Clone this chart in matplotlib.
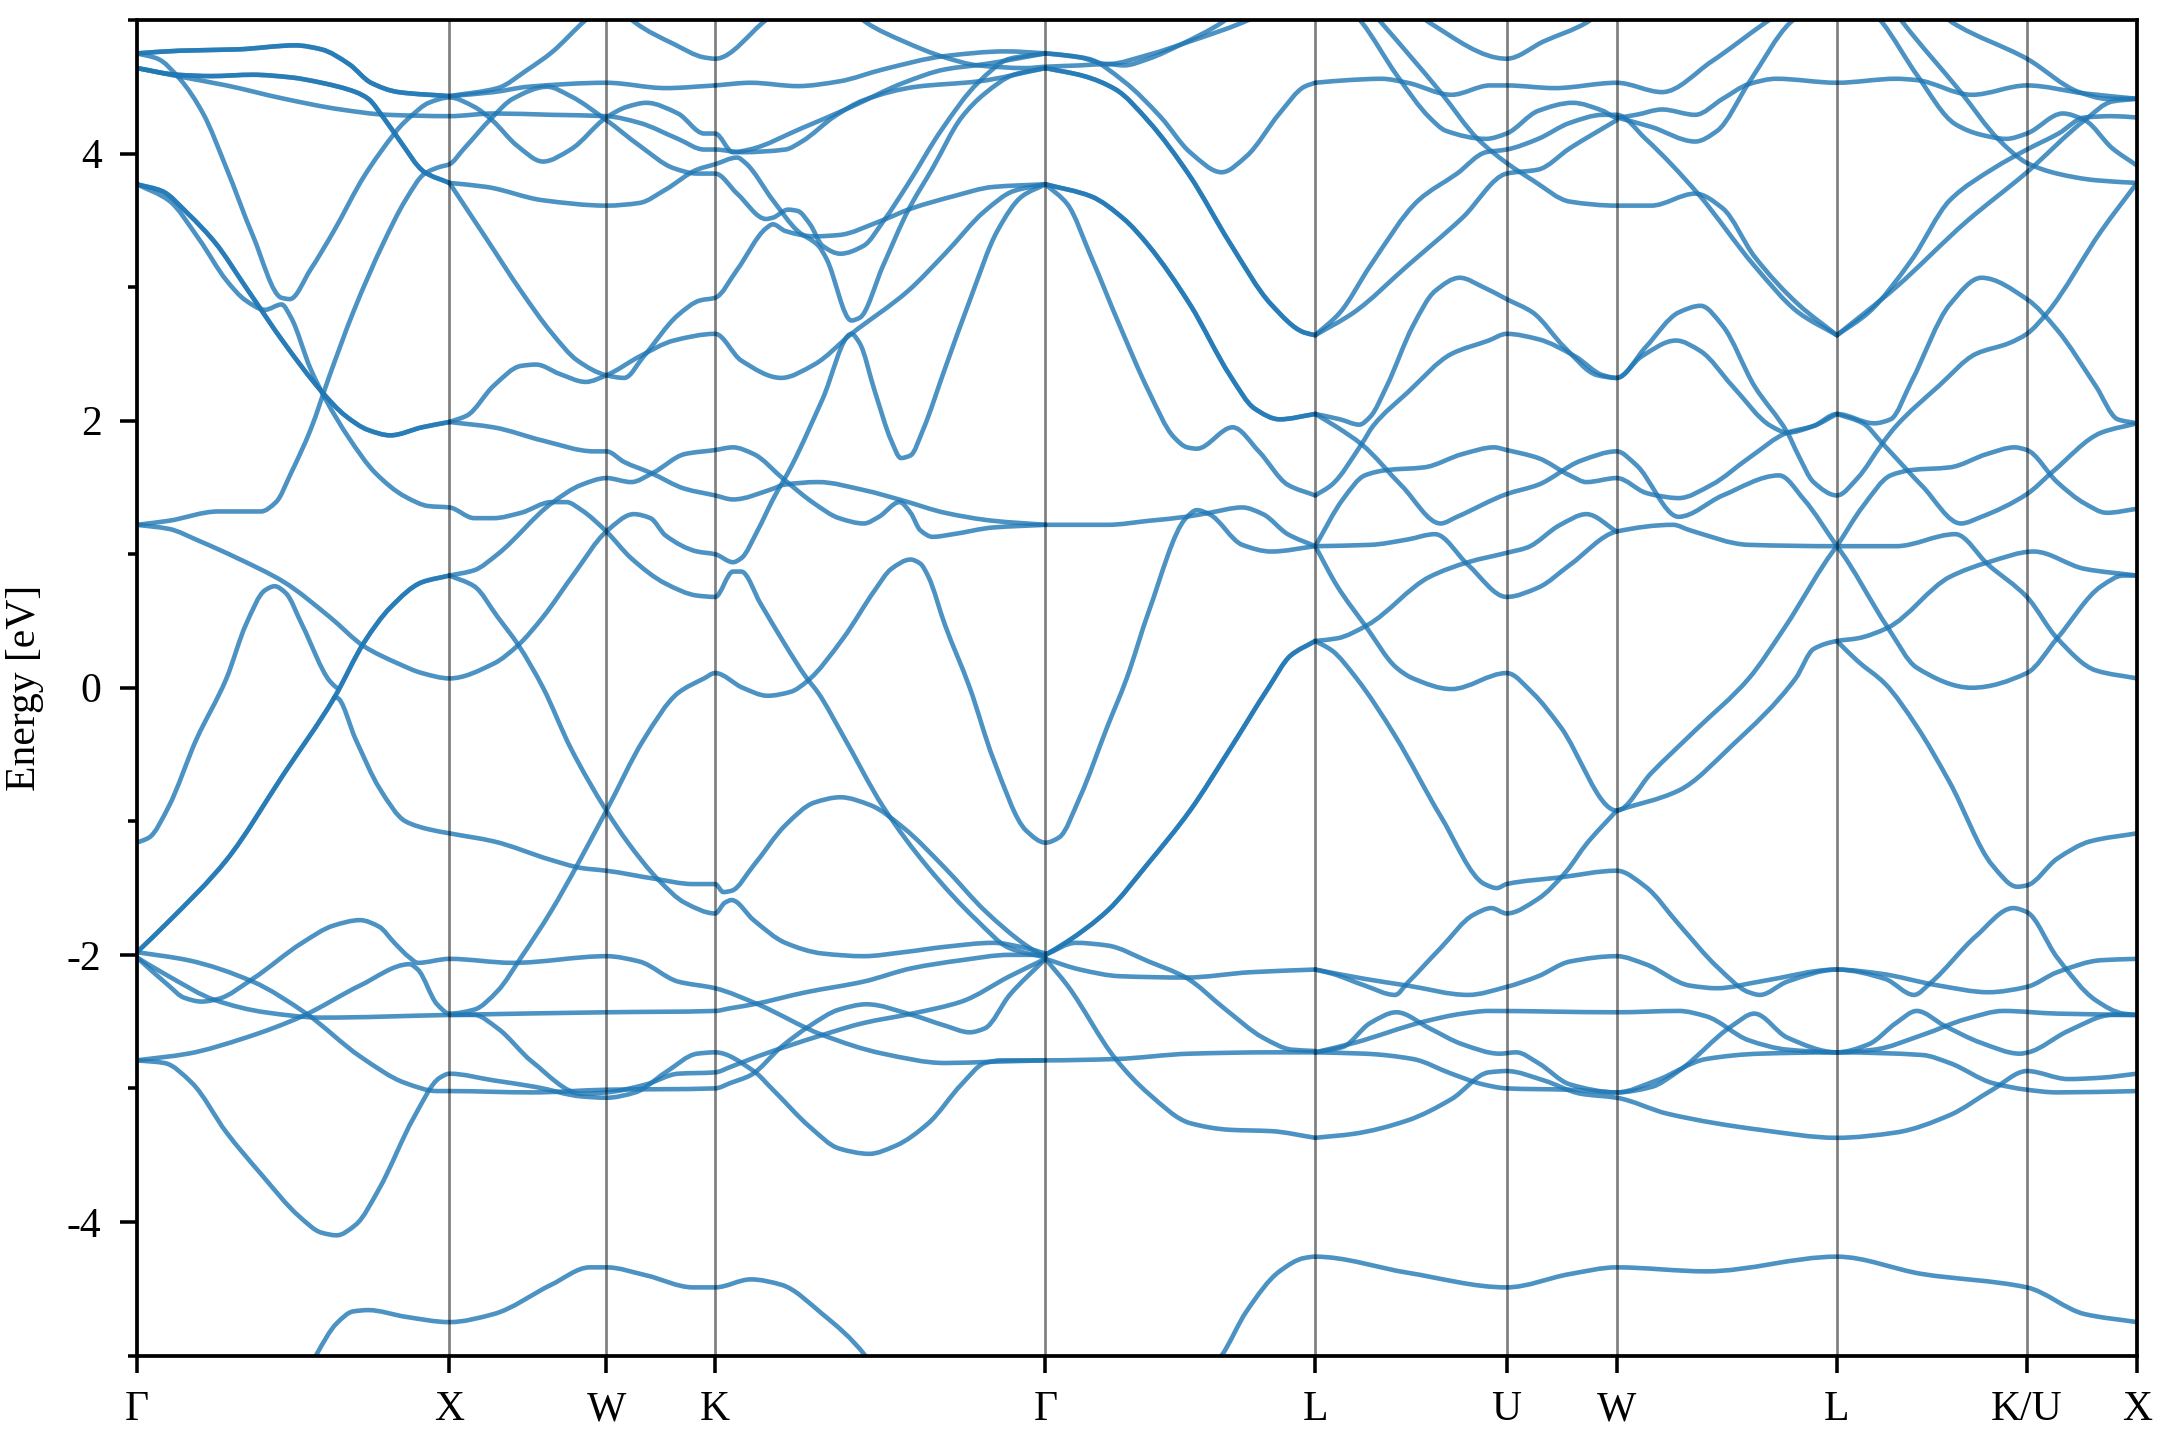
import matplotlib
matplotlib.use("Agg")
import matplotlib.pyplot as plt
from matplotlib.patches import PathPatch
from matplotlib.path import Path
from matplotlib.ticker import MultipleLocator

plt.rcParams['font.family'] = ['Liberation Serif', 'DejaVu Serif']
plt.rcParams['axes.unicode_minus'] = False

tick_k = [0, 227, 341, 420, 660, 856, 995, 1075, 1235, 1373, 1453]
tick_labels = ['Γ', 'X', 'W', 'K', 'Γ', 'L', 'U', 'W', 'L', 'K/U', 'X']

# ---- Γ - X - W - K - Γ
top_gx_k = [0, 31, 73, 115, 134, 154, 170, 190, 227]
top_gx_e = [4.75, 4.77, 4.78, 4.81, 4.78, 4.67, 4.53, 4.46, 4.43]
top_xw_k = [227, 262, 284, 301, 326, 345]
top_xw_e = [4.43, 4.49, 4.63, 4.755, 5.0, 5.15]
x_flat_k = [227, 259, 284, 341, 384, 420]
x_flat_e = [4.43, 4.46, 4.50, 4.53, 4.49, 4.51]
vee_k_k = [350, 362, 390, 412, 420, 457, 470]
vee_k_e = [5.1, 4.98, 4.82, 4.72, 4.71, 5.0, 5.1]

steep_k = [0, 15, 31, 48, 65, 84, 105, 111, 126, 143, 165, 187, 191, 198, 212, 227, 245, 258, 276, 295, 315, 341,
           356, 370, 393, 412, 420, 433, 445, 483, 519, 557, 587, 616, 660]
steep_e = [4.75, 4.71, 4.56, 4.30, 3.89, 3.39, 2.92, 2.91, 3.13, 3.42, 3.83, 4.15, 4.2, 4.27, 4.38, 4.42, 4.35, 4.25,
           4.06, 3.94, 4.03, 4.27, 4.35, 4.38, 4.30, 4.15, 4.15, 4.01, 4.03, 4.19, 4.35, 4.53, 4.63, 4.67, 4.75]

g463_x_k = [0, 29, 54, 84, 112, 134, 159, 168, 179, 190, 209, 227]
g463_x_e = [4.64, 4.59, 4.58, 4.59, 4.57, 4.53, 4.46, 4.41, 4.27, 4.11, 3.86, 3.78]
x378_k_k = [227, 254, 295, 341, 365, 384, 407, 420, 436, 442, 462, 480, 495, 501, 519, 525, 542, 560, 578, 599, 616, 637, 660]
x378_k_e = [3.78, 3.75, 3.65, 3.61, 3.63, 3.73, 3.88, 3.92, 3.97, 3.93, 3.65, 3.42, 3.31, 3.21, 2.75, 2.77, 3.16,
            3.57, 3.89, 4.27, 4.45, 4.59, 4.64]
x378_w_k = [227, 254, 279, 301, 320, 341, 354, 368, 393, 409, 420, 436, 457, 462, 471, 492, 510, 539, 563, 593, 622, 660]
x378_w_e = [3.78, 3.36, 2.97, 2.66, 2.45, 2.34, 2.32, 2.48, 2.79, 2.90, 2.92, 3.13, 3.44, 3.47, 3.42, 3.38, 3.39,
            3.49, 3.59, 3.68, 3.75, 3.77]

flat428_k = [0, 29, 65, 107, 148, 182, 227, 259, 301, 341, 365, 393, 412, 420, 439, 471, 483, 507, 528, 566, 611, 660]
flat428_e = [4.64, 4.58, 4.51, 4.41, 4.33, 4.29, 4.28, 4.30, 4.29, 4.28, 4.23, 4.11, 4.03, 4.03, 4.01, 4.03, 4.09,
             4.28, 4.40, 4.50, 4.54, 4.64]

rise_k = [0, 23, 59, 90, 101, 112, 126, 140, 157, 179, 195, 209, 220, 227, 237, 258, 273, 298, 315, 341, 365, 390, 407, 420,
          436, 457, 462, 473, 480, 489, 498, 511, 528, 542, 560, 584, 611, 634, 660]
rise_e = [1.22, 1.25, 1.32, 1.32, 1.39, 1.61, 1.93, 2.34, 2.81, 3.33, 3.65, 3.85, 3.90, 3.92, 4.03, 4.27, 4.41, 4.50,
          4.43, 4.25, 4.06, 3.89, 3.85, 3.85, 3.70, 3.51, 3.52, 3.58, 3.57, 3.47, 3.31, 3.25, 3.31, 3.49, 3.77, 4.17,
          4.53, 4.71, 4.75]

g377_x_k = [0, 18, 37, 57, 79, 107, 134, 151, 168, 184, 207, 227]
g377_x_e = [3.77, 3.72, 3.55, 3.33, 3.0, 2.58, 2.22, 2.04, 1.93, 1.89, 1.95, 1.99]
x199_g_k = [227, 259, 295, 332, 341, 354, 373, 398, 420, 433, 462, 470, 495, 528, 557, 587, 622, 660]
x199_g_e = [1.99, 1.95, 1.85, 1.77, 1.77, 1.69, 1.61, 1.49, 1.44, 1.41, 1.49, 1.52, 1.54, 1.48, 1.40, 1.31, 1.25, 1.22]
x199_u_k = [227, 240, 259, 279, 290, 307, 326, 341, 365, 390, 420, 439, 468, 492, 519, 560, 587, 616, 637, 660]
x199_u_e = [1.99, 2.04, 2.26, 2.41, 2.42, 2.35, 2.29, 2.34, 2.48, 2.60, 2.65, 2.45, 2.32, 2.42, 2.65, 2.97, 3.25,
            3.57, 3.72, 3.77]

third_k = [0, 23, 45, 65, 79, 93, 105, 112, 126, 137, 154, 173, 195, 212, 227, 245, 259, 279, 301, 312, 323, 341, 359, 384,
           407, 420, 433, 439, 453, 471, 486, 495, 513, 542, 575, 610, 634, 660]
third_e = [3.77, 3.65, 3.36, 3.05, 2.90, 2.83, 2.87, 2.77, 2.39, 2.16, 1.87, 1.61, 1.43, 1.36, 1.35, 1.27, 1.27, 1.31,
           1.39, 1.39, 1.33, 1.17, 0.97, 0.78, 0.69, 0.68, 0.87, 0.87, 0.63, 0.32, 0.08, -0.04, -0.36, -0.89, -1.35,
           -1.74, -1.95, -2.02]

g2_x_k = [0, 23, 65, 107, 143, 165, 184, 207, 227]
g2_x_e = [-1.98, -1.75, -1.29, -0.64, -0.08, 0.34, 0.6, 0.79, 0.84]
x084_k_k = [227, 245, 262, 277, 295, 315, 341, 356, 379, 398, 420, 427, 432, 448, 471, 498, 528, 557, 587, 622, 646, 660]
x084_k_e = [0.84, 0.76, 0.53, 0.32, 0.0, -0.45, -0.92, -1.15, -1.44, -1.61, -1.69, -1.61, -1.59, -1.74, -1.91, -1.99,
            -2.01, -1.98, -1.94, -1.91, -1.95, -1.99]
x084_u_k = [227, 245, 262, 301, 323, 341, 359, 375, 398, 420, 433, 448, 470, 492, 510, 528, 539, 554, 562, 569, 578, 593, 622, 660]
x084_u_e = [0.84, 0.88, 1.0, 1.38, 1.52, 1.57, 1.54, 1.61, 1.75, 1.78, 1.8, 1.75, 1.56, 1.38, 1.27, 1.23, 1.28, 1.39,
            1.31, 1.18, 1.13, 1.15, 1.2, 1.22]

bump_k = [0, 9, 23, 43, 65, 79, 93, 100, 108, 120, 140, 145]
bump_e = [-1.16, -1.12, -0.89, -0.39, 0.07, 0.47, 0.73, 0.76, 0.71, 0.47, 0.05, 0.0]
low1_k = [143, 145, 159, 176, 195, 212, 227, 259, 301, 323, 341, 376, 404, 420, 426, 432, 448, 471, 492, 511, 533, 557, 587, 616, 646, 660]
low1_e = [-0.075, -0.075, -0.39, -0.75, -1.0, -1.06, -1.09, -1.15, -1.29, -1.35, -1.37, -1.43, -1.47, -1.47, -1.53,
          -1.52, -1.33, -1.03, -0.86, -0.82, -0.88, -1.05, -1.35, -1.67, -1.93, -2.02]

g122_k = [0, 23, 45, 73, 107, 140, 165, 190, 207, 227, 259, 277, 295, 318, 341, 361, 373, 384, 407, 420, 433, 439, 451, 462, 476,
          498, 519, 525, 536, 548, 555, 562, 571, 587, 605, 625, 643, 660]
g122_e = [1.22, 1.19, 1.10, 0.97, 0.79, 0.53, 0.31, 0.18, 0.11, 0.07, 0.18, 0.32, 0.53, 0.86, 1.17, 1.30, 1.27, 1.14,
          1.02, 1.0, 0.94, 0.97, 1.18, 1.41, 1.67, 2.16, 2.65, 2.58, 2.22, 1.85, 1.72, 1.74, 1.93, 2.39, 2.90, 3.42,
          3.68, 3.77]

g279_k = [0, 37, 79, 120, 162, 198, 204, 218, 227, 245, 262, 279, 301, 341, 368, 393, 412, 420, 440, 458, 475, 487, 513, 536, 548,
          562, 569, 575, 587, 605, 622, 646, 660, 670, 685, 705, 719, 735, 762, 770, 779, 803, 824, 856]
g279_e = [-2.79, -2.74, -2.62, -2.46, -2.23, -2.07, -2.11, -2.37, -2.44, -2.41, -2.27, -2.02, -1.67, -0.92, -0.39,
          -0.04, 0.07, 0.11, 0.0, -0.06, -0.03, 0.05, 0.37, 0.73, 0.89, 0.96, 0.93, 0.83, 0.47, 0.0, -0.53, -1.07,
          -1.16, -1.12, -0.82, -0.29, 0.07, 0.57, 1.27, 1.33, 1.30, 1.07, 1.02, 1.06]

thick245_k = [0, 23, 57, 93, 134, 227, 341, 420, 431, 448, 486, 528, 563, 599, 634, 660]
thick245_e = [-2.02, -2.16, -2.34, -2.43, -2.47, -2.45, -2.43, -2.42, -2.40, -2.37, -2.28, -2.2, -2.1, -2.04, -2.0, -2.0]
arch_k = [0, 23, 34, 47, 59, 84, 120, 143, 162, 176, 187, 198, 204, 227, 273, 341, 365, 393, 420, 451, 498, 542, 587, 622, 660]
arch_e = [-2.02, -2.23, -2.32, -2.35, -2.33, -2.18, -1.91, -1.78, -1.74, -1.79, -1.91, -2.02, -2.06, -2.03, -2.06,
          -2.01, -2.05, -2.2, -2.25, -2.37, -2.6, -2.74, -2.81, -2.8, -2.79]
g302_k = [0, 37, 84, 123, 162, 195, 218, 227, 287, 341, 420, 431, 446, 468, 489, 510, 530, 563, 587, 605, 616, 634, 660]
g302_e = [-1.98, -2.04, -2.2, -2.44, -2.76, -2.96, -3.02, -3.02, -3.03, -3.01, -3.0, -2.96, -2.9, -2.69, -2.53, -2.41,
          -2.37, -2.45, -2.53, -2.58, -2.55, -2.3, -2.03]
deep_k = [0, 20, 40, 65, 90, 118, 134, 145, 159, 176, 201, 220, 227, 259, 290, 323, 341, 362, 384, 407, 420, 448, 462, 489, 510, 532,
          551, 575, 599, 616, 628, 660, 711, 765, 824, 856]
deep_e = [-2.79, -2.81, -2.96, -3.33, -3.64, -3.96, -4.08, -4.1, -4.02, -3.75, -3.22, -2.92, -2.89, -2.94, -2.99,
          -3.06, -3.07, -3.03, -2.88, -2.74, -2.73, -2.87, -3.01, -3.29, -3.45, -3.49, -3.43, -3.26, -2.97, -2.81,
          -2.79, -2.79, -2.78, -2.74, -2.73, -2.73]
x245_k = [227, 245, 262, 287, 323, 341, 370, 393, 420, 431, 451, 498, 528, 563, 599, 634, 660]
x245_e = [-2.45, -2.45, -2.55, -2.8, -3.04, -3.03, -2.97, -2.89, -2.88, -2.84, -2.76, -2.6, -2.51, -2.44, -2.35, -2.16, -2.03]
bottom_a_k = [125, 130, 145, 157, 168, 195, 227, 259, 301, 329, 341, 370, 404, 420, 446, 468, 498, 529, 535]
bottom_a_e = [-5.1, -5.0, -4.76, -4.67, -4.66, -4.71, -4.75, -4.69, -4.47, -4.34, -4.34, -4.4, -4.49, -4.49, -4.43,
              -4.47, -4.69, -5.0, -5.1]

# ---- Γ - L
top_peak_k = [420, 446, 480, 510, 542, 587, 631, 660, 691, 717, 744, 765, 788, 806, 830, 848, 856]
top_peak_e = [4.51, 4.53, 4.505, 4.54, 4.63, 4.73, 4.765, 4.75, 4.71, 4.54, 4.27, 4.01, 3.86, 3.98, 4.30, 4.50, 4.53]
flat465_k = [522, 530, 557, 587, 611, 646, 660, 685, 705, 717, 735, 759, 788, 797]
flat465_e = [5.05, 4.98, 4.84, 4.72, 4.66, 4.64, 4.65, 4.66, 4.67, 4.66, 4.71, 4.82, 4.98, 5.05]
g475_up_k = [660, 685, 705, 735, 765, 803, 818]
g475_up_e = [4.75, 4.72, 4.67, 4.74, 4.84, 4.98, 5.05]
g464_l_k = [660, 688, 711, 735, 765, 794, 824, 848, 856]
g464_l_e = [4.64, 4.58, 4.48, 4.24, 3.83, 3.33, 2.87, 2.66, 2.64]
g377_l_k = [660, 693, 717, 735, 765, 794, 812, 830, 856]
g377_l_e = [3.77, 3.68, 3.51, 3.31, 2.87, 2.34, 2.09, 2.01, 2.05]
g377_s_k = [660, 676, 693, 714, 735, 753, 763, 770, 796, 815, 836, 856]
g377_s_e = [3.77, 3.62, 3.23, 2.71, 2.22, 1.88, 1.8, 1.79, 1.95, 1.77, 1.52, 1.44]
g122_l_k = [660, 705, 735, 762, 779, 803, 818, 836, 856]
g122_l_e = [1.22, 1.22, 1.25, 1.28, 1.31, 1.35, 1.30, 1.15, 1.06]
g2_l_k = [660, 676, 705, 735, 765, 794, 822, 838, 856]
g2_l_e = [-2.0, -1.90, -1.67, -1.31, -0.92, -0.46, 0.0, 0.24, 0.35]
g2_flat_k = [660, 685, 714, 762, 809, 856]
g2_flat_e = [-2.03, -2.11, -2.16, -2.17, -2.13, -2.11]
g2_bump_k = [660, 682, 705, 735, 762, 791, 818, 839, 856]
g2_bump_e = [-2.0, -1.91, -1.93, -2.05, -2.17, -2.41, -2.62, -2.71, -2.72]
g2_down_k = [660, 676, 711, 735, 765, 794, 824, 856]
g2_down_e = [-2.03, -2.23, -2.78, -3.04, -3.26, -3.31, -3.32, -3.37]
bottom_b_k = [780, 788, 806, 830, 848, 856, 923, 995, 1041, 1075, 1140, 1235, 1297, 1373, 1415, 1453]
bottom_b_e = [-5.1, -5.0, -4.67, -4.37, -4.27, -4.26, -4.38, -4.49, -4.39, -4.34, -4.37, -4.26, -4.39, -4.49, -4.69, -4.75]

# ---- L - U - W - L - K/U - X
la_k = [856, 880, 904, 923, 955, 983, 995, 1030, 1075, 1108, 1144, 1183, 1193]
la_e = [4.53, 4.55, 4.56, 4.53, 4.44, 4.51, 4.51, 4.49, 4.53, 4.46, 4.69, 4.98, 5.05]
vee_u_k = [930, 939, 995, 1022, 1053, 1062]
vee_u_e = [5.05, 4.98, 4.71, 4.84, 4.98, 5.05]
l1_k = [884, 890, 915, 939, 951, 980, 995, 1018, 1043, 1065, 1075, 1089, 1108, 1132, 1152, 1171, 1191, 1235, 1278, 1293, 1333, 1373, 1415, 1453]
l1_e = [5.05, 4.98, 4.59, 4.27, 4.17, 4.11, 4.15, 4.32, 4.38, 4.32, 4.27, 4.29, 4.33, 4.29, 4.41, 4.52, 4.56, 4.53,
        4.56, 4.55, 4.44, 4.51, 4.45, 4.41]
w_up_k = [1075, 1100, 1132, 1148, 1171, 1201, 1210]
w_up_e = [4.27, 4.2, 4.09, 4.17, 4.53, 4.98, 5.05]
l2_k = [898, 904, 947, 974, 995, 1014, 1041, 1075, 1100, 1132, 1152, 1175, 1207, 1235]
l2_e = [5.05, 4.98, 4.46, 4.11, 3.93, 3.8, 3.64, 3.61, 3.61, 3.7, 3.59, 3.23, 2.87, 2.64]
la2_k = [856, 874, 896, 931, 959, 980, 995, 1018, 1041, 1065, 1075, 1096, 1134, 1175, 1207, 1235]
la2_e = [2.64, 2.81, 3.16, 3.65, 3.85, 4.01, 4.03, 4.11, 4.23, 4.29, 4.29, 4.11, 3.70, 3.16, 2.81, 2.64]
la3_k = [856, 884, 923, 963, 995, 1018, 1041, 1075]
la3_e = [2.64, 2.81, 3.16, 3.52, 3.85, 3.88, 4.04, 4.25]
r1_k = [1235, 1258, 1289, 1317, 1349, 1373, 1396, 1415, 1435, 1453]
r1_e = [2.64, 2.81, 3.2, 3.65, 3.89, 4.03, 4.15, 4.27, 4.28, 4.27]
r2_k = [1235, 1278, 1329, 1373, 1415, 1435, 1453]
r2_e = [2.64, 3.0, 3.49, 3.86, 4.25, 4.39, 4.41]
r3_k = [1262, 1268, 1293, 1321, 1340, 1358, 1373, 1399, 1415, 1435, 1453]
r3_e = [5.05, 4.98, 4.59, 4.22, 4.14, 4.11, 4.15, 4.3, 4.25, 4.04, 3.91]
r4_k = [1278, 1283, 1325, 1352, 1373, 1395, 1423, 1453]
r4_e = [5.05, 4.98, 4.46, 4.11, 3.93, 3.85, 3.8, 3.78]
r5_k = [1310, 1319, 1373, 1411, 1431, 1453]
r5_e = [5.05, 4.98, 4.71, 4.46, 4.41, 4.41]

m1_k = [856, 874, 888, 896, 908, 927, 943, 961, 978, 995, 1014, 1037, 1061, 1075, 1096, 1120, 1136, 1152, 1175, 1199, 1207, 1218, 1235,
        1250, 1268, 1278, 1309, 1336, 1360, 1373, 1388, 1427, 1453]
m1_e = [2.05, 2.01, 1.97, 2.03, 2.26, 2.71, 2.97, 3.07, 3.0, 2.91, 2.81, 2.55, 2.34, 2.32, 2.55, 2.81, 2.86, 2.71,
        2.26, 1.91, 1.74, 1.54, 1.44, 1.57, 1.83, 1.96, 2.26, 2.5, 2.58, 2.65, 2.81, 3.42, 3.78]
m2_k = [856, 872, 890, 919, 947, 959, 995, 1018, 1049, 1075, 1089, 1120, 1152, 1193, 1211, 1235]
m2_e = [2.05, 1.95, 1.82, 1.51, 1.23, 1.28, 1.45, 1.52, 1.70, 1.77, 1.67, 1.28, 1.44, 1.59, 1.41, 1.06]
m3_k = [856, 868, 890, 898, 923, 955, 982, 995, 1018, 1045, 1065, 1075, 1093, 1118, 1136, 1159, 1187, 1199, 1218, 1235,
        1262, 1274, 1289, 1317, 1340, 1373, 1395, 1423, 1439, 1453]
m3_e = [1.44, 1.52, 1.83, 1.96, 2.21, 2.5, 2.6, 2.65, 2.61, 2.48, 2.34, 2.32, 2.48, 2.6, 2.52, 2.26, 1.96, 1.91, 1.96, 2.05,
        1.98, 2.01, 2.29, 2.87, 3.07, 2.91, 2.68, 2.26, 2.01, 1.98]
m4_k = [1235, 1254, 1268, 1297, 1325, 1340, 1373, 1392, 1427, 1453]
m4_e = [2.05, 1.98, 1.83, 1.51, 1.23, 1.28, 1.45, 1.62, 1.91, 1.98]
m5_k = [1235, 1254, 1274, 1289, 1317, 1344, 1364, 1373, 1395, 1415, 1431, 1453]
m5_e = [1.06, 1.36, 1.59, 1.63, 1.65, 1.75, 1.8, 1.78, 1.54, 1.38, 1.31, 1.34]
m6_k = [856, 876, 892, 908, 935, 963, 986, 995, 1018, 1041, 1053, 1075, 1096, 1104, 1120, 1144, 1171, 1199, 1218, 1235]
m6_e = [1.06, 1.41, 1.59, 1.63, 1.65, 1.75, 1.8, 1.78, 1.72, 1.59, 1.54, 1.57, 1.46, 1.44, 1.42, 1.52, 1.72, 1.91, 1.96, 2.05]
f1_k = [856, 896, 923, 943, 967, 995, 1018, 1041, 1075, 1116, 1128, 1171, 1235, 1278, 1321, 1345, 1373, 1395, 1423, 1453]
f1_e = [1.06, 1.07, 1.11, 1.15, 0.92, 0.68, 0.75, 0.92, 1.17, 1.22, 1.18, 1.07, 1.06, 1.06, 1.15, 0.92, 0.68, 0.37, 0.13, 0.07]
f2_k = [856, 872, 892, 915, 927, 955, 995, 1014, 1034, 1075, 1100, 1132, 1171, 1197, 1235, 1272, 1293, 1333, 1373, 1395, 1427, 1443, 1453]
f2_e = [1.06, 0.76, 0.47, 0.15, 0.07, -0.01, 0.11, -0.04, -0.29, -0.92, -0.64, -0.32, 0.07, 0.45, 1.06, 0.45, 0.15, 0.0,
        0.11, 0.37, 0.76, 0.84, 0.84]
f3_k = [856, 872, 894, 939, 967, 995, 1010, 1034, 1053, 1075]
f3_e = [0.35, 0.37, 0.47, 0.83, 0.94, 1.01, 1.05, 1.22, 1.30, 1.17]
f4_k = [1075, 1120, 1159, 1205, 1218, 1235, 1250, 1272, 1317, 1345, 1378, 1415, 1453]
f4_e = [-0.92, -0.77, -0.43, 0.07, 0.29, 0.35, 0.37, 0.45, 0.83, 0.94, 1.02, 0.89, 0.84]
a1_k = [856, 868, 886, 914, 947, 979, 988, 995, 1034, 1075, 1096, 1120, 1148, 1171, 1179, 1199, 1235, 1270, 1291, 1303, 1336, 1363,
        1373, 1395, 1423, 1443, 1453]
a1_e = [0.35, 0.28, 0.07, -0.36, -0.96, -1.47, -1.5, -1.47, -1.42, -1.37, -1.49, -1.77, -2.09, -2.28, -2.30, -2.2,
        -2.11, -2.18, -2.3, -2.21, -1.86, -1.65, -1.68, -2.02, -2.34, -2.44, -2.45]
c1_k = [1235, 1250, 1270, 1293, 1317, 1348, 1366, 1373, 1395, 1419, 1453]
c1_e = [0.35, 0.2, 0.03, -0.29, -0.71, -1.33, -1.49, -1.48, -1.28, -1.15, -1.09]
u1_k = [856, 868, 892, 914, 923, 947, 971, 984, 995, 1018, 1038, 1053, 1075]
u1_e = [-2.11, -2.14, -2.23, -2.3, -2.21, -1.95, -1.70, -1.65, -1.69, -1.58, -1.38, -1.17, -0.92]
u2_k = [856, 892, 923, 967, 995, 1018, 1041, 1075, 1096, 1128, 1148, 1179, 1235, 1266, 1309, 1345, 1373, 1395, 1427, 1453]
u2_e = [-2.11, -2.18, -2.23, -2.3, -2.24, -2.16, -2.05, -2.01, -2.07, -2.23, -2.25, -2.2, -2.11, -2.14, -2.23, -2.28,
        -2.24, -2.13, -2.04, -2.03]
n1_k = [856, 884, 935, 963, 982, 1075, 1120, 1140, 1171, 1199, 1235, 1262, 1297, 1329, 1356, 1395, 1453]
n1_e = [-2.73, -2.66, -2.5, -2.44, -2.42, -2.43, -2.42, -2.46, -2.64, -2.71, -2.73, -2.71, -2.6, -2.48, -2.42, -2.44, -2.45]
n2_k = [856, 876, 896, 915, 939, 963, 990, 1002, 1018, 1041, 1075, 1100, 1120, 1159, 1175, 1199, 1235, 1258, 1278, 1293, 1313, 1340, 1368,
        1374, 1403, 1435, 1453]
n2_e = [-2.73, -2.69, -2.51, -2.43, -2.55, -2.67, -2.74, -2.73, -2.81, -2.97, -3.03, -2.99, -2.87, -2.53, -2.44, -2.62,
        -2.73, -2.67, -2.51, -2.42, -2.53, -2.66, -2.74, -2.73, -2.57, -2.45, -2.45]
n3_k = [856, 892, 927, 955, 978, 995, 1041, 1075, 1104, 1140, 1179, 1235, 1297, 1317, 1348, 1373, 1395, 1453]
n3_e = [-2.73, -2.74, -2.78, -2.89, -2.97, -3.0, -3.01, -3.03, -2.94, -2.78, -2.74, -2.73, -2.75, -2.81, -2.96, -3.01, -3.03, -3.02]
n4_k = [856, 884, 923, 955, 982, 995, 1022, 1049, 1075, 1112, 1179, 1235, 1278, 1317, 1348, 1373, 1403, 1427, 1453]
n4_e = [-3.37, -3.34, -3.24, -3.08, -2.88, -2.87, -2.94, -3.04, -3.07, -3.19, -3.31, -3.37, -3.33, -3.2, -3.01, -2.87, -2.93, -2.92, -2.89]

bands = [
    (top_gx_k, top_gx_e), (top_gx_k, top_gx_e), (top_xw_k, top_xw_e), (x_flat_k, x_flat_e), (vee_k_k, vee_k_e),
    (steep_k, steep_e), (g463_x_k, g463_x_e), (g463_x_k, g463_x_e), (x378_k_k, x378_k_e), (x378_w_k, x378_w_e),
    (flat428_k, flat428_e), (rise_k, rise_e), (g377_x_k, g377_x_e), (g377_x_k, g377_x_e),
    (x199_g_k, x199_g_e), (x199_u_k, x199_u_e), (third_k, third_e), (g2_x_k, g2_x_e), (g2_x_k, g2_x_e),
    (x084_k_k, x084_k_e), (x084_u_k, x084_u_e), (bump_k, bump_e), (low1_k, low1_e), (g122_k, g122_e),
    (g279_k, g279_e), (thick245_k, thick245_e), (arch_k, arch_e), (g302_k, g302_e), (deep_k, deep_e),
    (x245_k, x245_e), (bottom_a_k, bottom_a_e), (top_peak_k, top_peak_e), (flat465_k, flat465_e),
    (g475_up_k, g475_up_e), (g464_l_k, g464_l_e), (g464_l_k, g464_l_e), (g377_l_k, g377_l_e), (g377_l_k, g377_l_e),
    (g377_s_k, g377_s_e), (g122_l_k, g122_l_e), (g2_l_k, g2_l_e), (g2_l_k, g2_l_e), (g2_flat_k, g2_flat_e),
    (g2_bump_k, g2_bump_e), (g2_down_k, g2_down_e), (bottom_b_k, bottom_b_e), (la_k, la_e), (vee_u_k, vee_u_e),
    (l1_k, l1_e), (w_up_k, w_up_e), (l2_k, l2_e), (la2_k, la2_e), (la3_k, la3_e), (r1_k, r1_e), (r2_k, r2_e),
    (r3_k, r3_e), (r4_k, r4_e), (r5_k, r5_e), (m1_k, m1_e), (m2_k, m2_e), (m3_k, m3_e), (m4_k, m4_e), (m5_k, m5_e),
    (m6_k, m6_e), (f1_k, f1_e), (f2_k, f2_e), (f3_k, f3_e), (f4_k, f4_e), (a1_k, a1_e), (c1_k, c1_e), (u1_k, u1_e),
    (u2_k, u2_e), (n1_k, n1_e), (n2_k, n2_e), (n3_k, n3_e), (n4_k, n4_e),
]


def band_path(k_vals, e_vals):
    """Bezier path through the read points; the points themselves are the vertices."""
    n = len(k_vals)
    h = [k_vals[i + 1] - k_vals[i] for i in range(n - 1)]
    d = [(e_vals[i + 1] - e_vals[i]) / h[i] for i in range(n - 1)]
    left = [d[0]] * n
    right = [d[0]] * n
    left[-1] = right[-1] = d[-1]
    for i in range(1, n - 1):
        a, b = d[i - 1], d[i]
        if a * b <= 0:
            if min(abs(a), abs(b)) > 0.015:       # a sharp corner stays sharp
                left[i], right[i] = a * 0.8, b * 0.8
            else:
                left[i] = right[i] = 0.0
        else:
            w1 = 2 * h[i] + h[i - 1]
            w2 = h[i] + 2 * h[i - 1]
            left[i] = right[i] = (w1 + w2) / (w1 / a + w2 / b)
    verts = [(k_vals[0], e_vals[0])]
    codes = [Path.MOVETO]
    for i in range(n - 1):
        verts += [(k_vals[i] + h[i] / 3, e_vals[i] + right[i] * h[i] / 3),
                  (k_vals[i + 1] - h[i] / 3, e_vals[i + 1] - left[i + 1] * h[i] / 3),
                  (k_vals[i + 1], e_vals[i + 1])]
        codes += [Path.CURVE4] * 3
    return Path(verts, codes)


fig = plt.figure(figsize=(7.2, 4.8), dpi=300)
ax = fig.add_axes([137 / 2160, 1 - 1355.5 / 1440, 2000 / 2160, (1355.5 - 20) / 1440])

for k_vals, e_vals in bands:
    ax.add_patch(PathPatch(band_path(k_vals, e_vals), fill=False, edgecolor='#1f77b4', lw=1.1, alpha=0.8,
                           joinstyle='round', capstyle='round'))
for t in tick_k[1:-1]:
    ax.axvline(t, color='black', lw=0.65, alpha=0.5, zorder=3)

ax.set_xlim(tick_k[0], tick_k[-1])
ax.set_ylim(-5, 5)
ax.set_xticks(tick_k)
ax.set_xticklabels(tick_labels)
ax.yaxis.set_major_locator(MultipleLocator(2))
ax.yaxis.set_minor_locator(MultipleLocator(1))
ax.tick_params(axis='both', which='major', length=4, width=0.85, labelsize=10, pad=4.5)
ax.tick_params(axis='y', which='minor', length=2.2, width=0.85)
ax.set_ylabel('Energy [eV]', fontsize=10, labelpad=5.5)
for s in ax.spines.values():
    s.set_linewidth(0.9)
fig.savefig('out.png', dpi=300)
